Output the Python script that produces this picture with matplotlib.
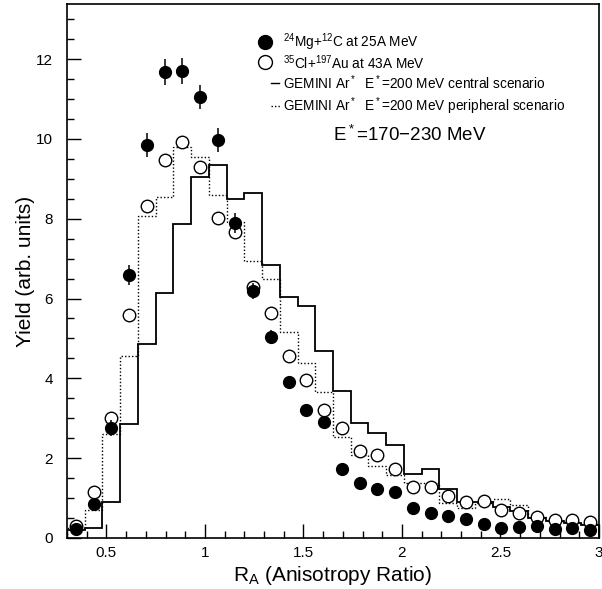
import numpy as np
import matplotlib
matplotlib.use("Agg")
import matplotlib.pyplot as plt
from matplotlib.ticker import MultipleLocator

plt.rcParams['font.family'] = ['Liberation Sans', 'DejaVu Sans']
plt.rcParams['mathtext.default'] = 'regular'

# 30 bins of 0.09 from 0.30 to 3.00
bin_edges = np.round(0.30 + 0.09 * np.arange(31), 2)
bin_centers = 0.5 * (bin_edges[:-1] + bin_edges[1:])

mg_c = [0.22, 0.85, 2.75, 6.58, 9.85, 11.67, 11.70, 11.04, 9.97, 7.90,
        6.20, 5.03, 3.92, 3.20, 2.90, 1.74, 1.38, 1.22, 1.15, 0.74,
        0.62, 0.56, 0.47, 0.34, 0.24, 0.27, 0.30, 0.23, 0.26, 0.21]
mg_c_err = [0.1, 0.15, 0.2, 0.25, 0.3, 0.32, 0.32, 0.3, 0.3, 0.25,
            0.2, 0.18, 0.15, 0.15, 0.15, 0.12, 0.12, 0.1, 0.1, 0.1,
            0.1, 0.1, 0.1, 0.1, 0.1, 0.1, 0.1, 0.1, 0.1, 0.1]
cl_au = [0.30, 1.15, 3.00, 5.60, 8.32, 9.47, 9.92, 9.30, 8.03, 7.67,
         6.28, 5.63, 4.55, 3.95, 3.20, 2.75, 2.18, 2.07, 1.74, 1.27,
         1.28, 1.05, 0.89, 0.93, 0.69, 0.62, 0.52, 0.45, 0.45, 0.40]
gem_central = [0.20, 0.25, 0.90, 2.85, 4.85, 6.15, 7.88, 9.05, 9.35, 8.49,
               8.64, 6.85, 6.05, 5.82, 4.69, 3.69, 2.89, 2.62, 2.32, 1.61,
               1.73, 1.23, 0.90, 0.90, 0.77, 0.68, 0.50, 0.42, 0.38, 0.33]
gem_periph = [0.25, 0.70, 2.60, 4.55, 8.07, 8.54, 9.80, 9.54, 8.60, 7.93,
              6.93, 6.49, 5.15, 4.38, 3.67, 2.54, 2.08, 1.81, 1.58, 1.37,
              1.37, 0.88, 0.76, 0.87, 0.97, 0.83, 0.53, 0.43, 0.41, 0.35]

fig = plt.figure(figsize=(6.02, 5.89), dpi=100)
ax = fig.add_axes([0.1113, 0.0866, 0.8837, 0.9066])

ax.stairs(gem_central, bin_edges, color='black', lw=1.3)
ax.stairs(gem_periph, bin_edges, color='black', lw=1.0, ls=(0, (1, 1.5)))
ax.errorbar(bin_centers, mg_c, yerr=mg_c_err, fmt='o', color='black',
            ms=8.5, elinewidth=1.1, capsize=0, zorder=4)
ax.plot(bin_centers, cl_au, 'o', mfc='white', mec='black', mew=1.0,
        ms=9, zorder=3)

ax.set_xlim(0.3, 3.0)
ax.set_ylim(0, 13.38)
ax.xaxis.set_major_locator(MultipleLocator(0.5))
ax.xaxis.set_minor_locator(MultipleLocator(0.1))
ax.yaxis.set_major_locator(MultipleLocator(2))
ax.yaxis.set_minor_locator(MultipleLocator(0.5))
ax.set_xticks([0.5, 1, 1.5, 2, 2.5, 3])
ax.set_xticklabels(['0.5', '1', '1.5', '2', '2.5', '3'])
ax.tick_params(which='both', direction='in', top=False, right=False,
               labelsize=11)
ax.tick_params(which='major', length=10, width=1)
ax.tick_params(which='minor', length=5, width=1)
ax.tick_params(axis='x', pad=6)
ax.tick_params(axis='y', pad=10)
for s in ax.spines.values():
    s.set_linewidth(1.2)

ax.set_ylabel('Yield (arb. units)', fontsize=15, labelpad=1)
ax.set_xlabel('R$_A$ (Anisotropy Ratio)', fontsize=15, labelpad=3)

# legend drawn by hand to match the original layout
tr = ax.transAxes
fs = 9.8
ax.plot([0.372], [0.929], 'o', color='black', ms=10, transform=tr)
ax.text(0.406, 0.929, '$^{24}$Mg+$^{12}$C at 25A MeV', transform=tr,
        fontsize=fs, va='center')
ax.plot([0.372], [0.891], 'o', mfc='white', mec='black', ms=10, transform=tr)
ax.text(0.406, 0.891, '$^{35}$Cl+$^{197}$Au at 43A MeV', transform=tr,
        fontsize=fs, va='center')
ax.plot([0.384, 0.398], [0.853, 0.853], color='black', lw=1, transform=tr)
ax.text(0.406, 0.853, 'GEMINI Ar$^*$  E$^*$=200 MeV central scenario',
        transform=tr, fontsize=fs, va='center')
ax.plot([0.384, 0.400], [0.809, 0.809], color='black', lw=1,
        ls=(0, (1, 1.5)), transform=tr)
ax.text(0.406, 0.809, 'GEMINI Ar$^*$  E$^*$=200 MeV peripheral scenario',
        transform=tr, fontsize=fs, va='center')
ax.text(0.5, 0.755, 'E$^*$=170$-$230 MeV', transform=tr, fontsize=13.5,
        va='center')

fig.savefig('out.png', dpi=100)
